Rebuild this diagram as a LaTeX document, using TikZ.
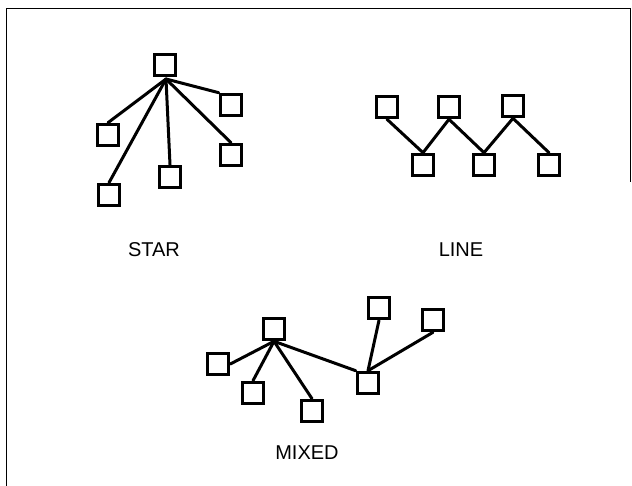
\documentclass[tikz,border=0pt]{standalone}
\usepackage{fontspec}
\setmainfont{Liberation Sans}
\begin{document}
\begin{tikzpicture}[x=1pt,y=-1pt,
  sq/.style={draw,line width=3.1pt,minimum size=21.5pt,inner sep=0pt},
  conn/.style={line width=3pt,line cap=round},
  lbl/.style={anchor=base,inner sep=0pt,font=\fontsize{20}{24}\selectfont},
  frame/.style={line width=1pt}]
\useasboundingbox (0,0) rectangle (632,486);
\draw[frame] (6,486) -- (6,9) -- (630,9) -- (630,182);
% STAR
\node[sq] (s0) at (165,65) {};
\node[sq] (s1) at (108,135) {};
\node[sq] (s2) at (109,195) {};
\node[sq] (s3) at (170,177) {};
\node[sq] (s4) at (231,105) {};
\node[sq] (s5) at (231,155) {};
\coordinate (shub) at (166,79);
\draw[conn] (shub) -- (s1.north);
\draw[conn] (shub) -- (s2.north);
\draw[conn] (shub) -- (s3.north);
\draw[conn] (shub) -- (s4.north west);
\draw[conn] (shub) -- (s5.north);
\node[lbl] (starlbl) at (154,257) {STAR};
% LINE
\node[sq] (t1) at (387,107) {};
\node[sq] (t2) at (449,107) {};
\node[sq] (t3) at (513,106) {};
\node[sq] (b1) at (423,165) {};
\node[sq] (b2) at (484,165) {};
\node[sq] (b3) at (549,165) {};
\draw[conn] (t1.south) -- (b1.north) -- (t2.south) -- (b2.north) -- (t3.south) -- (b3.north);
\node[lbl] (linelbl) at (461,257) {LINE};
% MIXED
\node[sq] (m0) at (274,329) {};
\node[sq] (l1) at (218,364) {};
\node[sq] (l2) at (253,393) {};
\node[sq] (l3) at (312,411) {};
\node[sq] (m1) at (368,383) {};
\node[sq] (r1) at (379,308) {};
\node[sq] (r2) at (433,320) {};
\draw[conn] (m0.south) -- (l1.east);
\draw[conn] (m0.south) -- (l2.north);
\draw[conn] (m0.south) -- (l3.north);
\draw[conn] (m0.south) -- (m1.north west);
\draw[conn] (m1.north) -- (r1.south);
\draw[conn] (m1.north) -- (r2.south);
\node[lbl] (mixedlbl) at (307,459) {MIXED};
\end{tikzpicture}
\end{document}
